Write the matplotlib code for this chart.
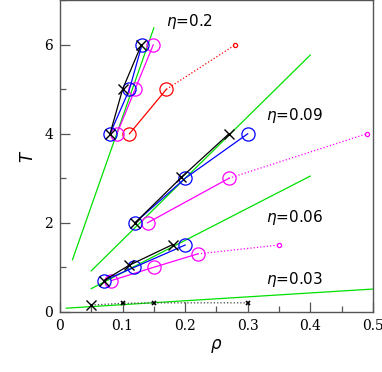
import numpy as np
import matplotlib
matplotlib.use('Agg')
import matplotlib.pyplot as plt
from matplotlib.ticker import MultipleLocator, FuncFormatter

# eta = 0.2
rho_k_20 = [0.08, 0.10, 0.13]
T_k_20 = [4, 5, 6]
rho_b_20 = [0.08, 0.111, 0.131]
T_b_20 = [4, 5, 6]
rho_m_20 = [0.091, 0.12, 0.149]
T_m_20 = [4, 5, 6]
rho_r_20 = [0.111, 0.17]
T_r_20 = [4, 5]
rho_r_20_dot = [0.17, 0.28]
T_r_20_dot = [5, 6]
green_rho_20 = [0.02, 0.15]
green_T_20 = [1.17, 6.38]

# eta = 0.09
rho_k_09 = [0.12, 0.194, 0.27]
T_k_09 = [2, 3.02, 4]
rho_b_09 = [0.12, 0.2, 0.30]
T_b_09 = [2, 3, 4]
rho_m_09 = [0.14, 0.27]
T_m_09 = [2, 3]
rho_m_09_dot = [0.27, 0.49]
T_m_09_dot = [3, 4]
green_rho_09 = [0.05, 0.40]
green_T_09 = [0.92, 5.77]

# eta = 0.06
rho_k_06 = [0.07, 0.11, 0.18]
T_k_06 = [0.7, 1.04, 1.51]
rho_b_06 = [0.07, 0.119, 0.20]
T_b_06 = [0.7, 1.0, 1.5]
rho_m_06 = [0.082, 0.15, 0.22]
T_m_06 = [0.7, 1.0, 1.3]
rho_m_06_dot = [0.22, 0.35]
T_m_06_dot = [1.3, 1.5]
green_rho_06 = [0.05, 0.40]
green_T_06 = [0.52, 3.05]

# eta = 0.03
rho_k_03 = [0.05]
T_k_03 = [0.15]
rho_k_03_dot = [0.05, 0.10, 0.15, 0.30]
T_k_03_dot = [0.15, 0.19, 0.2, 0.2]
green_rho_03 = [0.01, 0.5]
green_T_03 = [0.08, 0.51]

eta_labels = ['$\\eta$=0.2', '$\\eta$=0.09', '$\\eta$=0.06', '$\\eta$=0.03']
label_rho = [0.17, 0.33, 0.33, 0.33]
label_T = [6.42, 4.31, 2.02, 0.62]

green = '#00e000'
blue = '#0000ff'
mag = '#ff00ff'
red = '#ff0000'

fig = plt.figure(figsize=(3.82, 3.72), dpi=100)
ax = fig.add_axes([0.157, 0.162, 0.819, 0.837])

lw = 0.9
ms = 9.5
# green reference lines
for gr, gt in [(green_rho_20, green_T_20), (green_rho_09, green_T_09),
               (green_rho_06, green_T_06), (green_rho_03, green_T_03)]:
    ax.plot(gr, gt, '-', color=green, lw=lw)

# dotted extensions
ax.plot(rho_r_20_dot, T_r_20_dot, ':', color=red, lw=lw)
ax.plot(rho_r_20_dot[-1:], T_r_20_dot[-1:], 'o', color=red, mfc='none', ms=3, mew=0.9)
ax.plot(rho_m_09_dot, T_m_09_dot, ':', color=mag, lw=lw)
ax.plot(rho_m_09_dot[-1:], T_m_09_dot[-1:], 'o', color=mag, mfc='none', ms=3, mew=0.9)
ax.plot(rho_m_06_dot, T_m_06_dot, ':', color=mag, lw=lw)
ax.plot(rho_m_06_dot[-1:], T_m_06_dot[-1:], 'o', color=mag, mfc='none', ms=3, mew=0.9)
ax.plot(rho_k_03_dot, T_k_03_dot, ':', color='#444444', lw=lw)
ax.plot(rho_k_03_dot[1:], T_k_03_dot[1:], 'x', color='black', ms=3.5, mew=1.2)

# solid series
ax.plot(rho_r_20, T_r_20, '-o', color=red, mfc='none', ms=ms, lw=lw, mew=0.9)
for r, t in [(rho_m_20, T_m_20), (rho_m_09, T_m_09), (rho_m_06, T_m_06)]:
    ax.plot(r, t, '-o', color=mag, mfc='none', ms=ms, lw=lw, mew=0.9)
for r, t in [(rho_b_20, T_b_20), (rho_b_09, T_b_09), (rho_b_06, T_b_06)]:
    ax.plot(r, t, '-o', color=blue, mfc='none', ms=ms, lw=lw, mew=0.9)
for r, t in [(rho_k_20, T_k_20), (rho_k_09, T_k_09), (rho_k_06, T_k_06), (rho_k_03, T_k_03)]:
    ax.plot(r, t, '-x', color='black', ms=7, lw=lw, mew=1.0)

for lab, x, y in zip(eta_labels, label_rho, label_T):
    ax.text(x, y, lab, fontsize=11, family='DejaVu Sans', weight='medium',
            ha='left', va='baseline')

ax.set_xlim(0, 0.5)
ax.set_ylim(0, 7)
ax.xaxis.set_major_locator(MultipleLocator(0.1))
ax.xaxis.set_minor_locator(MultipleLocator(0.05))
ax.yaxis.set_major_locator(MultipleLocator(2))
ax.yaxis.set_minor_locator(MultipleLocator(1))
ax.xaxis.set_major_formatter(FuncFormatter(lambda v, p: '0' if abs(v) < 1e-9 else '%.1f' % v))
ax.yaxis.set_major_formatter(FuncFormatter(lambda v, p: '%d' % round(v)))
ax.tick_params(which='both', direction='in', top=False, right=False, color='#555555',
               labelsize=10, labelfontfamily='DejaVu Serif')
ax.tick_params(which='major', length=7, width=0.9, pad=5)
ax.tick_params(which='minor', length=4, width=0.9)
for s in ax.spines.values():
    s.set_color('#555555')
    s.set_linewidth(1.0)

ax.set_xlabel('$\\rho$', fontsize=12, labelpad=3)
ax.set_ylabel('$T$', fontsize=12, labelpad=5)

plt.savefig('out.png', dpi=100)
